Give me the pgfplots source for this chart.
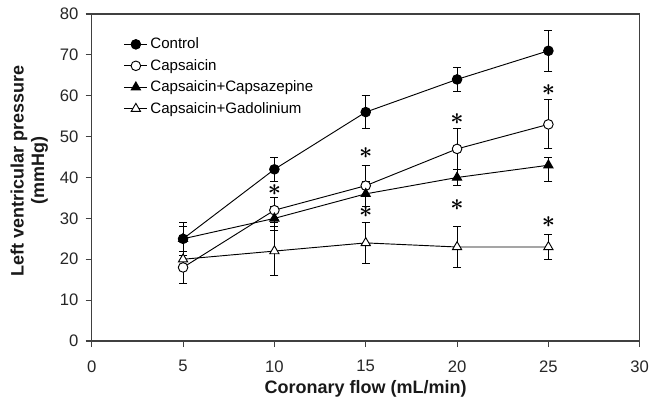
\documentclass[border=0pt]{standalone}
\usepackage{pgfplots}
\pgfplotsset{compat=1.18}
\usepackage{fontspec}
\setmainfont{Liberation Sans}
\newcommand{\sig}{{\boldmath$\ast$}}
\begin{document}
\begin{tikzpicture}
\useasboundingbox (-68.8pt,-52.5pt) rectangle (424.7pt,255.75pt);
\begin{axis}[
  at={(0,0)}, anchor=south west,
  scale only axis, width=411pt, height=245.25pt,
  xmin=0, xmax=30, ymin=0, ymax=80,
  xtick={0,5,...,30}, ytick={0,10,...,80},
  xtick pos=bottom, ytick pos=left,
  tick align=outside, major tick length=4.5pt,
  axis line style={black!75, line width=0.8pt},
  every tick/.style={black!75, line width=0.8pt},
  /pgf/number format/assume math mode=true,
  tick label style={font=\fontsize{12.5}{14}\selectfont, text=black!85},
  xticklabel style={yshift=-6.5pt},
  yticklabel style={xshift=-2pt},
  xlabel={Coronary flow (mL/min)},
  ylabel={Left ventricular pressure\\(mmHg)},
  label style={font=\bfseries\fontsize{13.5}{15.5}\selectfont, text=black!90},
  xlabel style={at={(axis description cs:0.5,-0.145)}, anchor=center},
  ylabel style={at={(axis description cs:-0.114,0.52)}, anchor=center, align=center},
  legend style={draw=none, fill=none, at={(0.056,0.94)}, anchor=north west,
    font=\fontsize{11.3}{13}\selectfont, row sep=2.4pt, inner sep=1pt},
  legend cell align=left,
  error bars/y dir=both, error bars/y explicit,
  error bars/error bar style={black, line width=0.7pt},
  error bars/error mark options={rotate=90, mark size=3pt, black, line width=0.7pt},
]
\addplot[black, line width=0.7pt, mark=*, mark size=3.6pt, mark options={fill=black}]
  coordinates {(5,25) +- (0,4) (10,42) +- (0,3) (15,56) +- (0,4) (20,64) +- (0,3) (25,71) +- (0,5)};
\addlegendentry{Control}
\addplot[black, line width=0.7pt, mark=*, mark size=3.6pt, mark options={fill=white}]
  coordinates {(5,18) +- (0,4) (10,32) +- (0,3) (15,38) +- (0,5) (20,47) +- (0,5) (25,53) +- (0,6)};
\addlegendentry{Capsaicin}
\addplot[black, line width=0.7pt, mark=triangle*, mark size=4pt, mark options={fill=black}]
  coordinates {(5,25) +- (0,3) (10,30) +- (0,3) (15,36) +- (0,3) (20,40) +- (0,2) (25,43) += (0,2) -= (0,4)};
\addlegendentry{Capsaicin+Capsazepine}
\addplot[black, line width=0.7pt, mark=triangle*, mark size=4pt, mark options={fill=white}]
  coordinates {(5,20) +- (0,2) (10,22) +- (0,6) (15,24) +- (0,5) (20,23) +- (0,5) (25,23) +- (0,3)};
\addlegendentry{Capsaicin+Gadolinium}
\node[font=\fontsize{16}{16}\selectfont, inner sep=0pt] at (axis cs:10,37) {\sig};
\node[font=\fontsize{16}{16}\selectfont, inner sep=0pt] at (axis cs:15,46) {\sig};
\node[font=\fontsize{16}{16}\selectfont, inner sep=0pt] at (axis cs:15,31.5) {\sig};
\node[font=\fontsize{16}{16}\selectfont, inner sep=0pt] at (axis cs:20,54.4) {\sig};
\node[font=\fontsize{16}{16}\selectfont, inner sep=0pt] at (axis cs:20,33.3) {\sig};
\node[font=\fontsize{16}{16}\selectfont, inner sep=0pt] at (axis cs:25,61.5) {\sig};
\node[font=\fontsize{16}{16}\selectfont, inner sep=0pt] at (axis cs:25,29.2) {\sig};
\end{axis}
\end{tikzpicture}
\end{document}
